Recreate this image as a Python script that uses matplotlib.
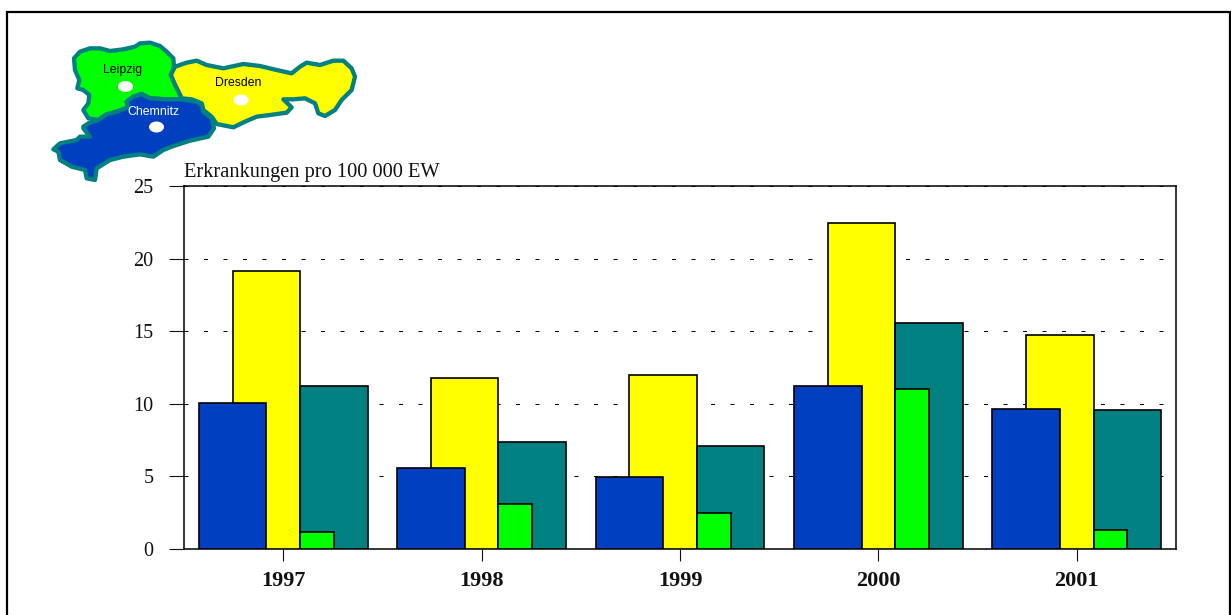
import numpy as np
import matplotlib
matplotlib.use('Agg')
import matplotlib.pyplot as plt
from matplotlib.patches import Polygon, Ellipse

years = ['1997', '1998', '1999', '2000', '2001']
chemnitz = [10.05, 5.6, 4.95, 11.25, 9.65]
dresden = [19.15, 11.75, 12.0, 22.45, 14.75]
sachsen = [11.25, 7.35, 7.1, 15.55, 9.55]
leipzig = [1.2, 3.1, 2.5, 11.0, 1.3]
y_ticks = [0, 5, 10, 15, 20, 25]

# map outlines, traced in pixels of the zoomed reference (3x, y offset 20)
leipzig_shape = [(222,115),(240,95),(270,85),(300,85),(330,93),(370,88),(405,80),(420,70),(450,68),
                 (480,78),(500,95),(520,115),(522,140),(512,165),(525,195),(540,225),(545,240),(500,238),
                 (450,235),(425,222),(400,230),(380,245),(385,262),(350,275),(320,283),(295,300),(265,295),
                 (250,270),(265,250),(268,225),(250,210),(232,205),(238,180),(225,150)]
dresden_shape = [(525,140),(560,128),(590,122),(620,135),(670,145),(730,132),(780,138),(830,150),(875,160),
                 (900,140),(920,128),(960,135),(1000,122),(1030,122),(1055,145),(1065,170),(1055,210),
                 (1025,240),(1005,270),(975,288),(955,280),(945,250),(915,235),(880,238),(850,238),(875,262),
                 (860,278),(810,285),(770,290),(735,305),(700,322),(650,312),(635,290),(610,270),(605,250),
                 (575,238),(545,235),(525,195),(512,165)]
chemnitz_shape = [(250,320),(265,310),(295,300),(320,283),(350,275),(385,262),(380,245),(400,230),(425,222),
                  (450,235),(500,238),(545,238),(590,245),(605,255),(610,275),(635,295),(642,325),(625,350),
                  (570,362),(520,378),(490,390),(460,410),(420,403),(370,410),(330,420),(290,445),(285,480),
                  (260,475),(255,450),(215,440),(180,420),(175,395),(160,388),(180,370),(230,360),(240,350),
                  (270,350),(250,325)]

BLUE = '#0040C0'
YELLOW = '#FFFF00'
TEAL = '#008080'
GREEN = '#00FF00'
W, H = 1231, 615

plt.rcParams['font.family'] = ['Liberation Serif', 'DejaVu Serif']

fig = plt.figure(figsize=(W / 100, H / 100), dpi=100, facecolor='white')

# plot area 184..1176 x 186..549 in pixels
ax = fig.add_axes([184 / W, 1 - 549 / H, 992 / W, 363 / H])
x = np.arange(len(years))
bw = 0.34

ax.bar(x - 0.085, dresden, bw, color=YELLOW, edgecolor='black', linewidth=1.2, zorder=3)
ax.bar(x + 0.255, sachsen, bw, color=TEAL, edgecolor='black', linewidth=1.2, zorder=3)
ax.bar(x - 0.255, chemnitz, bw, color=BLUE, edgecolor='black', linewidth=1.2, zorder=4)
ax.bar(x + 0.17, leipzig, bw / 2, color=GREEN, edgecolor='black', linewidth=1.2, zorder=4)

ax.set_xlim(-0.5, 4.5)
ax.set_ylim(0, 25)
ax.set_yticks(y_ticks)
ax.set_xticks(x)
ax.set_xticklabels(years, fontsize=16, fontweight='bold')
ax.tick_params(axis='y', length=10.8, width=0.8, pad=11, labelsize=14.5, colors='#111111')
ax.tick_params(axis='x', length=8.5, width=0.8, pad=7, colors='#111111')
ax.grid(axis='y', color='black', linewidth=0.72, linestyle=(0, (4, 15.5)), zorder=1)
ax.xaxis.grid(False)
ax.set_axisbelow(True)
for s in ax.spines.values():
    s.set_linewidth(1.1)
ax.text(0, 1.01, 'Erkrankungen pro 100 000 EW', transform=ax.transAxes, fontsize=14.7, va='bottom', ha='left', color='#111111')

# overlay in pixel coordinates for the map and the outer frame
over = fig.add_axes([0, 0, 1, 1], facecolor='none')
over.set_xlim(0, W)
over.set_ylim(H, 0)
over.axis('off')

over.plot([6.5, 6.5, 1230, 1230], [615, 12, 12, 615], color='black', lw=1.6, clip_on=False, solid_joinstyle='miter')


def to_px(shape):
    return [(px / 3, py / 3 + 20) for px, py in shape]


for shape, col in [(dresden_shape, YELLOW), (leipzig_shape, GREEN), (chemnitz_shape, BLUE)]:
    over.add_patch(Polygon(to_px(shape), closed=True, facecolor=col, edgecolor=TEAL, linewidth=3.1, joinstyle='round'))

for cx, cy in [(125.5, 86.5), (241, 100), (156.5, 127)]:
    over.add_patch(Ellipse((cx, cy), 15, 11, facecolor='white', edgecolor='none'))

map_font = ['Liberation Sans', 'DejaVu Sans']
over.text(123, 70, 'Leipzig', fontsize=8.8, family=map_font, ha='center', va='center', color='black')
over.text(238.5, 83, 'Dresden', fontsize=8.8, family=map_font, ha='center', va='center', color='black')
over.text(153, 112, 'Chemnitz', fontsize=8.8, family=map_font, ha='center', va='center', color='white')

fig.savefig('out.png', dpi=100)
